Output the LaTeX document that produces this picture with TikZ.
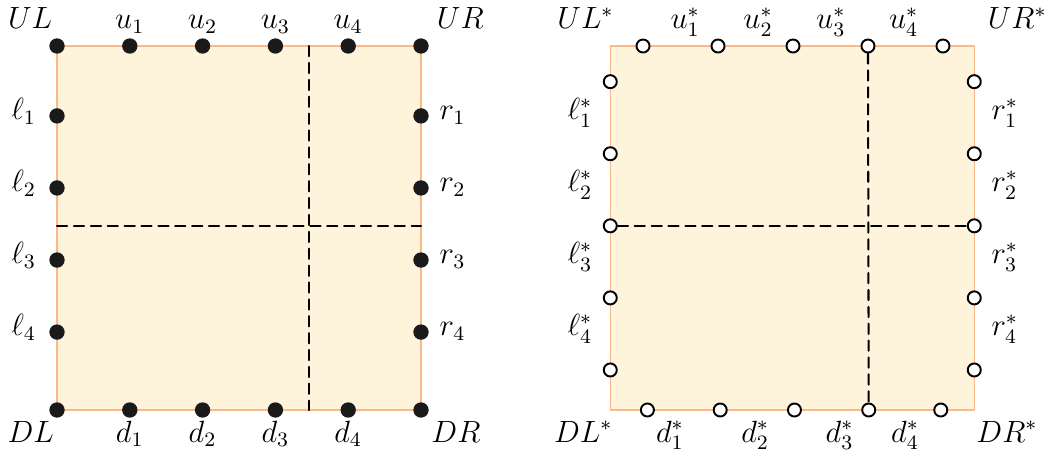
\documentclass[tikz,border=0pt]{standalone}
\usepackage{tikz}
\usetikzlibrary{calc,positioning}
\definecolor{SquareFill}{HTML}{FDF4DB}
\definecolor{SquareEdge}{HTML}{FBB98A}
\definecolor{DotBlack}{HTML}{1A1A1A}

\begin{document}
\begin{tikzpicture}[line cap=round,line join=round,
  blackdot/.style={circle,fill=DotBlack,inner sep=0pt,minimum size=6pt},
  whitedot/.style={circle,draw=black,fill=white,line width=0.75pt,inner sep=0pt,minimum size=5.1pt},
  cell/.style={fill=SquareFill,draw=SquareEdge,line width=0.6pt},
  cut/.style={line width=0.8pt,dash pattern=on 4pt off 2.6pt},
  lab/.style={inner sep=0pt,anchor=base,font=\fontsize{12pt}{14pt}\selectfont}]
  \useasboundingbox (-0.783,-0.549) rectangle (13.654,5.632);

  % primal square
  \coordinate (DL) at (0,0);
  \coordinate (UR) at (5,5);
  \draw[cell] (DL) rectangle (UR);
  \coordinate (cutU) at (3.46,5);
  \coordinate (cutD) at (3.46,0);
  \coordinate (cutL) at (0,2.53);
  \coordinate (cutR) at (5,2.53);
  \draw[cut] (cutU) -- (cutD);
  \draw[cut] (cutL) -- (cutR);
  \node[blackdot] (pUL) at (0,5) {};
  \node[blackdot] (pUR) at (5,5) {};
  \node[blackdot] (pDL) at (0,0) {};
  \node[blackdot] (pDR) at (5,0) {};
  \foreach \i in {1,...,4} {
    \node[blackdot] (u\i) at (\i,5) {};
    \node[blackdot] (d\i) at (\i,0) {};
    \node[lab] (tu\i) at ($(u\i)+(0,0.24)$) {$u_{\i}$};
    \node[lab] (td\i) at ($(d\i)+(0,-0.44)$) {$d_{\i}$};
  }
  \foreach \y [count=\i] in {4.04,3.05,2.06,1.07} {
    \node[blackdot] (l\i) at (0,\y) {};
    \node[blackdot] (r\i) at (5,\y) {};
    \node[lab,anchor=base east] (tl\i) at ($(l\i)+(-0.28,-0.05)$) {$\ell_{\i}$};
    \node[lab,anchor=base west] (tr\i) at ($(r\i)+(0.25,-0.05)$) {$r_{\i}$};
  }
  \node[lab] (tUL) at (-0.37,5.24) {$UL$};
  \node[lab] (tUR) at (5.54,5.24) {$UR$};
  \node[lab] (tDL) at (-0.36,-0.44) {$DL$};
  \node[lab] (tDR) at (5.48,-0.44) {$DR$};

  % dual square
  \begin{scope}[xshift=7.6cm]
    \coordinate (DLs) at (0,0);
    \coordinate (URs) at (5,5);
    \draw[cell] (DLs) rectangle (URs);
    \foreach \x [count=\i] in {0.45,1.48,2.51,3.54,4.57}
      \node[whitedot] (us\i) at (\x,5) {};
    \foreach \x [count=\i] in {0.51,1.51,2.53,3.55,4.54}
      \node[whitedot] (ds\i) at (\x,0) {};
    \foreach \y [count=\i] in {4.51,3.52,2.53,1.54,0.55} {
      \node[whitedot] (ls\i) at (0,\y) {};
      \node[whitedot] (rs\i) at (5,\y) {};
    }
    \draw[cut] (us4) -- (ds4);
    \draw[cut] (ls3) -- (rs3);
    \foreach \i in {1,...,4}
      \node[lab] (tus\i) at (\i+0.03,5.24) {$u^*_{\i}$};
    \foreach \x [count=\i] in {0.82,1.99,3.15,4.05}
      \node[lab] (tds\i) at (\x,-0.44) {$d^*_{\i}$};
    \foreach \y [count=\i] in {3.99,3.0,2.01,1.02} {
      \node[lab,anchor=base east] (tls\i) at (-0.24,\y) {$\ell^*_{\i}$};
      \node[lab,anchor=base west] (trs\i) at (5.23,\y) {$r^*_{\i}$};
    }
    \node[lab] (tULs) at (-0.34,5.24) {$UL^*$};
    \node[lab] (tURs) at (5.59,5.24) {$UR^*$};
    \node[lab] (tDLs) at (-0.37,-0.44) {$DL^*$};
    \node[lab] (tDRs) at (5.45,-0.44) {$DR^*$};
  \end{scope}
\end{tikzpicture}
\end{document}
